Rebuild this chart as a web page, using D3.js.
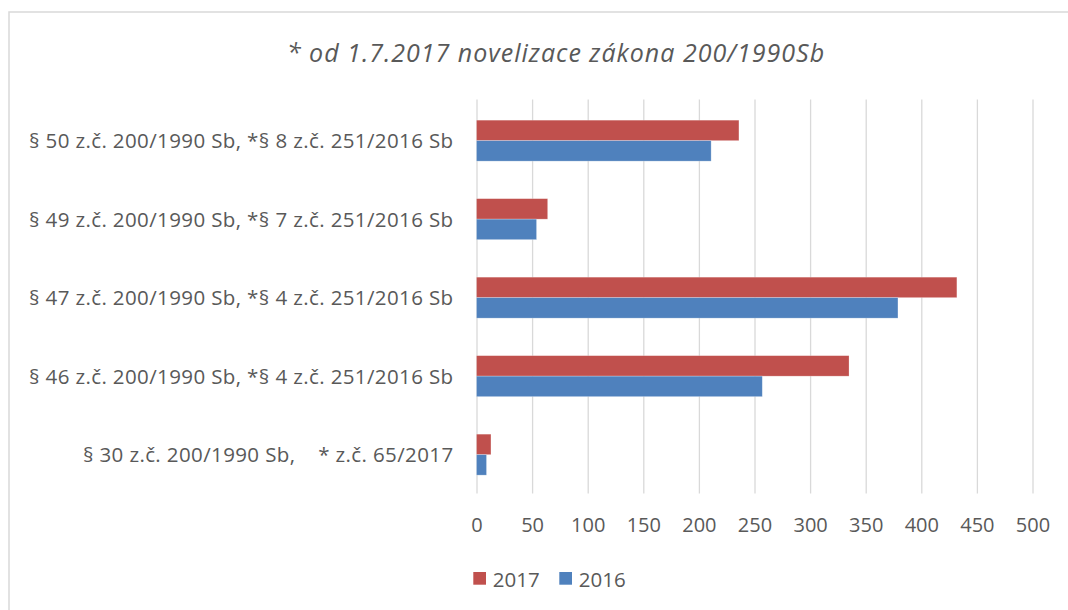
<!DOCTYPE html>
<html>
<head>
<meta charset="utf-8">
<script src="https://cdn.jsdelivr.net/npm/d3@7"></script>
<style>
  body { margin: 0; background: #fff; overflow: hidden; }
  svg { display: block; }
  text { font-family: "Open Sans", sans-serif; fill: #595959; }
</style>
</head>
<body>
<div id="chart"></div>
<script type="text/javascript">

      // data, top category first
      var categories = [
        "§ 50 z.č. 200/1990 Sb, *§ 8 z.č. 251/2016 Sb",
        "§ 49 z.č. 200/1990 Sb, *§ 7 z.č. 251/2016 Sb",
        "§ 47 z.č. 200/1990 Sb, *§ 4 z.č. 251/2016 Sb",
        "§ 46 z.č. 200/1990 Sb, *§ 4 z.č. 251/2016 Sb",
        "§ 30 z.č. 200/1990 Sb,    * z.č. 65/2017"
      ];
      var series = ["2017", "2016"];
      var values2017 = [236, 64, 432, 335, 13];
      var values2016 = [211, 54, 379, 257, 9];
      var xTicks = [0, 50, 100, 150, 200, 250, 300, 350, 400, 450, 500];
      var title = "* od 1.7.2017 novelizace zákona 200/1990Sb";

      var colors = {"2017": "#C0504D", "2016": "#4F81BD"};

      var w = 1068, h = 610;
      var plot = {left: 476.5, right: 1032.5, top: 101.4, bottom: 493.9};

      var rows = categories.map(function(c, i) {
        return {cat: c, "2017": values2017[i], "2016": values2016[i]};
      });

      var svg = d3.select("#chart")
                  .append("svg")
                  .attr("width", w)
                  .attr("height", h);

      // chart frame: only the top and left edges are in the picture
      svg.append("path")
         .attr("d", "M9," + h + "V12H" + w)
         .attr("fill", "none")
         .attr("stroke", "#d9d9d9")
         .attr("stroke-width", 1.5);

      svg.append("text")
         .attr("x", 556).attr("y", 62)
         .attr("text-anchor", "middle")
         .style("font-size", "25px")
         .style("letter-spacing", "1px")
         .style("font-style", "italic")
         .text(title);

      var x = d3.scaleLinear().domain([0, 500]).range([plot.left, plot.right]);
      var y0 = d3.scaleBand().domain(categories)
                 .range([plot.top, plot.bottom])
                 .paddingInner(0.478).paddingOuter(0.239);
      var y1 = d3.scaleBand().domain(series).range([0, y0.bandwidth()]);

      // gridlines
      svg.append("g")
         .attr("transform", "translate(0," + (plot.bottom - 0.5) + ")")
         .call(d3.axisBottom(x).tickValues(xTicks).tickSize(-(plot.bottom - plot.top + 1.5)).tickFormat(""))
         .call(function(g) { g.select(".domain").remove(); })
         .selectAll("line").attr("stroke", "#d9d9d9").attr("stroke-width", 1.3);

      // x tick labels
      svg.append("g")
         .attr("transform", "translate(0," + plot.bottom + ")")
         .call(d3.axisBottom(x).tickValues(xTicks).tickSize(0))
         .call(function(g) { g.select(".domain").remove(); })
         .selectAll("text")
         .attr("y", 38)
         .attr("dy", null)
         .attr("fill", "#595959")
         .style("font-family", "'Open Sans', sans-serif")
         .style("font-size", "20px");

      // category labels
      svg.append("g")
         .attr("transform", "translate(" + (plot.left - 23) + ",0)")
         .call(d3.axisLeft(y0).tickSize(0).tickPadding(0))
         .call(function(g) { g.select(".domain").remove(); })
         .selectAll("text")
         .attr("dy", 7.5)
         .attr("fill", "#595959")
         .style("font-family", "'Open Sans', sans-serif")
         .style("font-size", "20.5px")
         .style("letter-spacing", "0.38px")
         .style("white-space", "pre");

      // bars
      var groups = svg.selectAll("g.cat")
         .data(rows)
         .enter()
         .append("g")
         .attr("class", "cat")
         .attr("transform", function(d) { return "translate(0," + y0(d.cat) + ")"; });

      groups.selectAll("rect")
         .data(function(d) { return series.map(function(s) { return {s: s, v: d[s]}; }); })
         .enter()
         .append("rect")
         .attr("x", x(0))
         .attr("y", function(d) { return y1(d.s); })
         .attr("width", function(d) { return x(d.v) - x(0); })
         .attr("height", y1.bandwidth())
         .attr("fill", function(d) { return colors[d.s]; })
         .attr("stroke", "#ffffff")
         .attr("stroke-opacity", 0.35)
         .attr("stroke-width", 0.7);

      // legend
      var legendX = [473.3, 559.3];
      var legend = svg.selectAll("g.legend")
         .data(series)
         .enter()
         .append("g")
         .attr("class", "legend")
         .attr("transform", function(d, i) { return "translate(" + legendX[i] + ",572)"; });

      legend.append("rect")
         .attr("width", 12.7).attr("height", 12.7)
         .attr("fill", function(d) { return colors[d]; });

      legend.append("text")
         .attr("x", 19.5).attr("y", 14.5)
         .style("font-size", "20.5px")
         .text(function(d) { return d; });

</script>
</body>
</html>
